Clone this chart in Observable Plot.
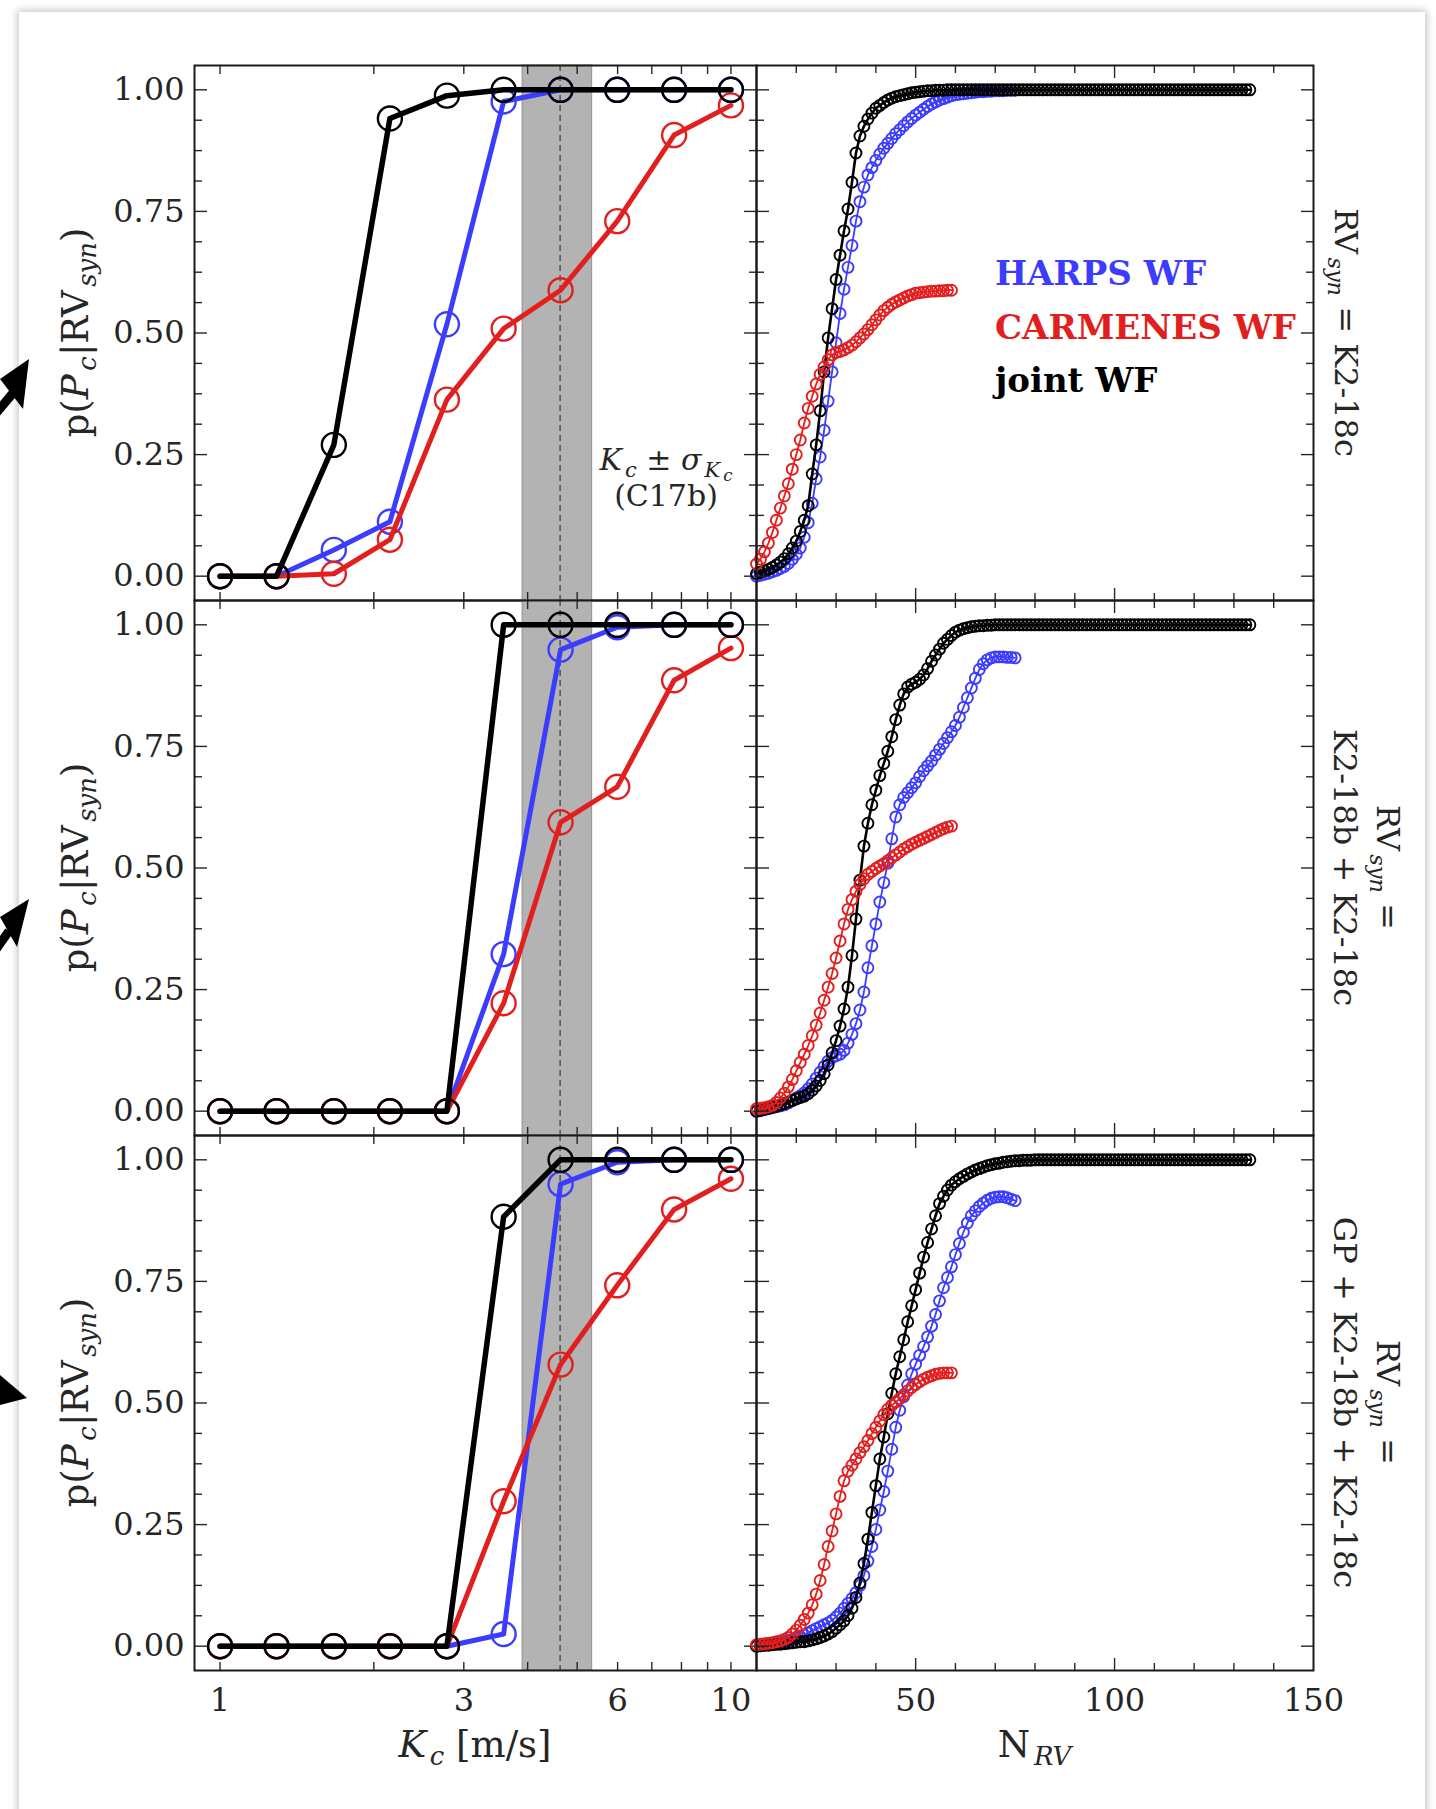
<!DOCTYPE html>
<html>
<head>
<meta charset="utf-8">
<script src="https://cdn.jsdelivr.net/npm/d3@7"></script>
<script src="https://cdn.jsdelivr.net/npm/@observablehq/plot@0.6"></script>
<style>
  html, body { margin: 0; padding: 0; background: #ffffff; }
  #page { position: relative; width: 1436px; height: 1809px; overflow: hidden; background: #ffffff; }
  #card { position: absolute; left: 19px; top: 12px; width: 1406px; height: 1830px; background: #ffffff;
          box-shadow: 0 0 7px 2px rgba(0,0,0,0.22); }
</style>
</head>
<body>
<div id="page">
  <div id="card"></div>
  <svg id="arrows" width="40" height="1809" style="position:absolute;left:0;top:0;overflow:visible">
    <line x1="13" y1="393" x2="-8" y2="418" stroke="#000" stroke-width="9"/>
    <polygon points="29,359 0,379 23,409" fill="#000"/>
    <line x1="9" y1="931" x2="-8" y2="955" stroke="#000" stroke-width="9"/>
    <polygon points="29,899 0,917 17,947" fill="#000"/>
    <polygon points="27,1398 0,1375 0,1405" fill="#000"/>
  </svg>
</div>
<script>
// ---------------- data ----------------
// left column: detection probability vs K_c (log-spaced grid)
const kValues = [1, 1.29, 1.67, 2.15, 2.78, 3.59, 4.64, 5.99, 7.74, 10];
const kHarps1 = [0, 0, 0.054, 0.112, 0.518, 0.976, 1.0, 1.0, 1.0, 1.0];
const kCarm1  = [0, 0, 0.005, 0.075, 0.363, 0.509, 0.588, 0.730, 0.907, 0.968];
const kJoint1 = [0, 0, 0.27, 0.941, 0.988, 1.0, 1.0, 1.0, 1.0, 1.0];
const kHarps2 = [0, 0, 0, 0, 0, 0.323, 0.949, 0.995, 1.0, 1.0];
const kCarm2  = [0, 0, 0, 0, 0, 0.222, 0.594, 0.667, 0.886, 0.952];
const kJoint2 = [0, 0, 0, 0, 0, 1.0, 1.0, 1.0, 1.0, 1.0];
const kHarps3 = [0, 0, 0, 0, 0, 0.025, 0.950, 0.995, 1.0, 1.0];
const kCarm3  = [0, 0, 0, 0, 0, 0.298, 0.579, 0.742, 0.898, 0.961];
const kJoint3 = [0, 0, 0, 0, 0, 0.883, 1.0, 1.0, 1.0, 1.0];
// K_c +/- sigma (C17b)
const kcCenter = 4.63, kcSigma = 0.72;

// right column: detection probability vs N_RV (one value per N, starting at N = 10)
const nStart = 10;
const nHarps1 = [0,0.002,0.004,0.006,0.009,0.012,0.016,0.02,0.026,0.035,
  0.045,0.058,0.08,0.11,0.15,0.2,0.245,0.3,0.36,0.42,
  0.48,0.54,0.59,0.635,0.68,0.73,0.77,0.8,0.825,0.84,
  0.855,0.868,0.88,0.89,0.9,0.91,0.918,0.926,0.934,0.941,
  0.948,0.954,0.96,0.966,0.971,0.975,0.979,0.982,0.985,0.988,
  0.99,0.991,0.992,0.993,0.994,0.995,0.996,0.996,0.997,0.997,
  0.998,0.998,0.998,0.999,0.999,0.999];
const nCarm1 = [0.025,0.035,0.05,0.068,0.09,0.115,0.14,0.165,0.19,0.22,
  0.25,0.28,0.315,0.345,0.37,0.395,0.415,0.43,0.445,0.455,
  0.46,0.462,0.465,0.47,0.475,0.482,0.49,0.498,0.507,0.517,
  0.527,0.537,0.546,0.553,0.559,0.564,0.568,0.572,0.576,0.579,
  0.582,0.583,0.584,0.585,0.586,0.586,0.587,0.587,0.588,0.588];
const nJoint1 = [0.005,0.008,0.011,0.014,0.018,0.023,0.029,0.036,0.046,0.058,
  0.072,0.092,0.115,0.145,0.21,0.27,0.34,0.42,0.49,0.55,
  0.61,0.66,0.71,0.755,0.81,0.87,0.905,0.925,0.94,0.952,
  0.962,0.968,0.974,0.979,0.983,0.986,0.988,0.99,0.992,0.994,
  0.995,0.996,0.997,0.998,0.998,0.999,0.999,0.999,1,1,
  1,1,1,1,1,1,1,1,1,1, 1,1,1,1,1,1,1,1,1,1,
  1,1,1,1,1,1,1,1,1,1, 1,1,1,1,1,1,1,1,1,1,
  1,1,1,1,1,1,1,1,1,1, 1,1,1,1,1,1,1,1,1,1,
  1,1,1,1,1,1,1,1,1,1, 1,1,1,1,1];
const nHarps2 = [0,0.001,0.003,0.005,0.007,0.009,0.011,0.013,0.017,0.022,
  0.027,0.032,0.038,0.046,0.056,0.068,0.08,0.092,0.103,0.11,
  0.114,0.117,0.125,0.14,0.158,0.18,0.208,0.245,0.295,0.34,
  0.385,0.43,0.47,0.51,0.56,0.605,0.63,0.645,0.655,0.665,
  0.675,0.688,0.7,0.71,0.72,0.732,0.744,0.756,0.768,0.78,
  0.793,0.81,0.83,0.85,0.87,0.89,0.908,0.92,0.928,0.932,
  0.934,0.934,0.934,0.933,0.933,0.932];
const nCarm2 = [0.005,0.006,0.007,0.009,0.012,0.018,0.027,0.037,0.05,0.065,
  0.083,0.1,0.117,0.135,0.155,0.177,0.202,0.228,0.255,0.283,
  0.315,0.35,0.385,0.415,0.435,0.452,0.466,0.478,0.487,0.493,
  0.499,0.504,0.509,0.515,0.521,0.527,0.533,0.539,0.544,0.549,
  0.553,0.557,0.561,0.565,0.569,0.573,0.577,0.581,0.584,0.586];
const nJoint2 = [0,0.002,0.004,0.006,0.008,0.01,0.013,0.016,0.019,0.022,
  0.025,0.028,0.031,0.036,0.043,0.052,0.063,0.077,0.095,0.12,
  0.145,0.175,0.21,0.255,0.32,0.395,0.475,0.545,0.592,0.63,
  0.66,0.69,0.715,0.74,0.77,0.805,0.835,0.858,0.872,0.878,
  0.882,0.888,0.897,0.91,0.925,0.938,0.95,0.962,0.97,0.978,
  0.985,0.989,0.992,0.994,0.996,0.997,0.998,0.998,0.999,0.999,
  1,1,1,1,1,1,1,1,1,1, 1,1,1,1,1,1,1,1,1,1,
  1,1,1,1,1,1,1,1,1,1, 1,1,1,1,1,1,1,1,1,1,
  1,1,1,1,1,1,1,1,1,1, 1,1,1,1,1,1,1,1,1,1,
  1,1,1,1,1];
const nHarps3 = [0,0.001,0.002,0.003,0.004,0.005,0.007,0.009,0.011,0.014,
  0.017,0.02,0.023,0.027,0.032,0.036,0.04,0.044,0.048,0.053,
  0.06,0.068,0.078,0.088,0.098,0.11,0.125,0.145,0.175,0.205,
  0.24,0.28,0.318,0.36,0.405,0.45,0.485,0.513,0.537,0.56,
  0.58,0.598,0.616,0.636,0.658,0.682,0.71,0.737,0.758,0.78,
  0.805,0.828,0.851,0.87,0.885,0.895,0.904,0.911,0.917,0.921,
  0.923,0.924,0.924,0.922,0.919,0.916];
const nCarm3 = [0.003,0.004,0.005,0.006,0.007,0.009,0.011,0.014,0.018,0.025,
  0.033,0.043,0.055,0.068,0.085,0.107,0.135,0.168,0.205,0.237,
  0.272,0.308,0.34,0.36,0.372,0.385,0.398,0.41,0.423,0.437,
  0.45,0.463,0.476,0.487,0.495,0.502,0.509,0.517,0.525,0.532,
  0.538,0.544,0.549,0.553,0.556,0.559,0.561,0.562,0.562,0.562];
const nJoint3 = [0,0.001,0.002,0.002,0.003,0.004,0.004,0.005,0.006,0.007,
  0.008,0.009,0.009,0.011,0.013,0.015,0.018,0.021,0.025,0.03,
  0.037,0.044,0.052,0.063,0.078,0.1,0.13,0.17,0.22,0.275,
  0.33,0.385,0.43,0.478,0.52,0.56,0.595,0.63,0.667,0.7,
  0.733,0.767,0.8,0.83,0.858,0.885,0.91,0.925,0.938,0.948,
  0.955,0.961,0.966,0.971,0.975,0.979,0.982,0.985,0.988,0.99,
  0.992,0.993,0.995,0.996,0.997,0.998,0.998,0.999,0.999,0.999,
  1,1,1,1,1,1,1,1,1,1, 1,1,1,1,1,1,1,1,1,1,
  1,1,1,1,1,1,1,1,1,1, 1,1,1,1,1,1,1,1,1,1,
  1,1,1,1,1,1,1,1,1,1, 1,1,1,1,1];

// ticks & labels
const yMajor = [0, 0.25, 0.5, 0.75, 1];
const yMinor = [0.0625, 0.125, 0.1875, 0.3125, 0.375, 0.4375, 0.5625, 0.625, 0.6875, 0.8125, 0.875, 0.9375];
const kTicks = [1, 2, 3, 4, 5, 6, 7, 8, 9, 10];
const kLabels = [1, 3, 6, 10];
const nMinor = [20, 30, 40, 60, 70, 80, 90, 110, 120, 130, 140];
const nMajor = [50, 100];
const nLabels = [50, 100, 150];
const seriesNames = ["HARPS WF", "CARMENES WF", "joint WF"];
const rowLabels = [
  [["RV"], ["syn", "i", 1], [" = K2-18c"]],
  [["K2-18b + K2-18c"]],
  [["GP + K2-18b + K2-18c"]]
];

// ---------------- styling / layout ----------------
const FONT = "DejaVu Serif";
const INK = "#262626";
const COL = { harps: "#3c3cff", carm: "#e21f1f", joint: "#000000" };
const M = { left: 200, right: 150, top: 20, bottom: 110 };
const colFrames = [[194, 756], [756, 1313]];
const rowFrames = [[65, 600], [600, 1135], [1135, 1670]];
const page = document.getElementById("page");

const leftSets = [
  [kHarps1, kCarm1, kJoint1],
  [kHarps2, kCarm2, kJoint2],
  [kHarps3, kCarm3, kJoint3]
];
const rightSets = [
  [nHarps1, nCarm1, nJoint1],
  [nHarps2, nCarm2, nJoint2],
  [nHarps3, nCarm3, nJoint3]
];

function richText(svg, o) {
  const t = d3.select(svg).append("text")
    .attr("transform", `translate(${o.x},${o.y})` + (o.rotate ? ` rotate(${o.rotate})` : ""))
    .attr("text-anchor", o.anchor || "middle")
    .attr("font-family", FONT)
    .attr("font-size", o.size)
    .attr("font-weight", o.weight || "normal")
    .attr("fill", o.fill || INK)
    .style("white-space", "pre");
  const off = [0, 0.22, 0.36], sc = [1, 0.7, 0.55];
  let level = 0;
  for (const [txt, st = "", lv = 0] of o.parts) {
    const ts = t.append("tspan").text(txt)
      .attr("font-size", (o.size * sc[lv]).toFixed(2))
      .attr("dy", ((off[lv] - off[level]) * o.size).toFixed(2));
    if (lv > level) ts.attr("dx", (0.1 * o.size).toFixed(2));
    if (st.includes("i")) ts.attr("font-style", "italic");
    level = lv;
  }
  return t;
}

function tickMarks(xMajor, xMinor, xMajLen, xMinLen) {
  const tk = { fill: "none", label: null, stroke: INK, strokeWidth: 1.4 };
  const out = [
    Plot.axisY(yMajor, { ...tk, anchor: "right", frameAnchor: "left", tickSize: 12 }),
    Plot.axisY(yMinor, { ...tk, anchor: "right", frameAnchor: "left", tickSize: 7 }),
    Plot.axisY(yMajor, { ...tk, anchor: "left", frameAnchor: "right", tickSize: 12 }),
    Plot.axisY(yMinor, { ...tk, anchor: "left", frameAnchor: "right", tickSize: 7 }),
    Plot.axisX(xMajor, { ...tk, anchor: "top", frameAnchor: "bottom", tickSize: xMajLen }),
    Plot.axisX(xMajor, { ...tk, anchor: "bottom", frameAnchor: "top", tickSize: xMajLen })
  ];
  if (xMinor) {
    out.push(Plot.axisX(xMinor, { ...tk, anchor: "top", frameAnchor: "bottom", tickSize: xMinLen }));
    out.push(Plot.axisX(xMinor, { ...tk, anchor: "bottom", frameAnchor: "top", tickSize: xMinLen }));
  }
  return out;
}

function place(svg, col, row) {
  svg.style.position = "absolute";
  svg.style.left = (colFrames[col][0] - M.left) + "px";
  svg.style.top = (rowFrames[row][0] - M.top) + "px";
  page.appendChild(svg);
}

function plotOpts(col, row, x, marks) {
  const W = colFrames[col][1] - colFrames[col][0];
  const H = rowFrames[row][1] - rowFrames[row][0];
  return {
    width: W + M.left + M.right, height: H + M.top + M.bottom,
    marginLeft: M.left, marginRight: M.right, marginTop: M.top, marginBottom: M.bottom,
    x, y: { domain: [-0.05, 1.05] },
    style: `background: transparent; overflow: visible; font-family: '${FONT}'; color: ${INK};`,
    marks
  };
}

// ---------------- left column ----------------
rowFrames.forEach((rf, row) => {
  const W = colFrames[0][1] - colFrames[0][0];
  const H = rf[1] - rf[0];
  const colors = [COL.harps, COL.carm, COL.joint];
  const marks = [
    Plot.rect([{ c: kcCenter, s: kcSigma }], { x1: d => d.c - d.s, x2: d => d.c + d.s, fill: "#b3b3b3", stroke: "#8f8f8f", strokeWidth: 1 }),
    Plot.ruleX([kcCenter], { stroke: "#3a3a3a", strokeWidth: 1.2, strokeDasharray: "6,4" })
  ];
  leftSets[row].forEach((vals, si) => {
    const data = vals.map((p, i) => ({ k: kValues[i], p }));
    marks.push(Plot.line(data, { x: "k", y: "p", stroke: colors[si], strokeWidth: si === 2 ? 5.5 : 5 }));
    marks.push(Plot.dot(data, { x: "k", y: "p", r: 12, stroke: colors[si], strokeWidth: 2.4, fill: "none" }));
  });
  marks.push(...tickMarks(kTicks, null, 9, 0));
  marks.push(Plot.axisY(yMajor, { anchor: "left", tickSize: 0, tickPadding: 10, fontSize: 32, fill: INK, label: null, tickFormat: d3.format(".2f") }));
  if (row === 2) {
    marks.push(Plot.axisX(kLabels, { anchor: "bottom", tickSize: 0, tickPadding: 18, fontSize: 32, fill: INK, label: null, tickFormat: d => String(d) }));
  }
  marks.push(Plot.frame({ stroke: "#1a1a1a", strokeWidth: 2 }));
  const svg = Plot.plot(plotOpts(0, row, { type: "log", domain: [Math.pow(10, -0.05), Math.pow(10, 1.05)] }, marks));
  // y label
  richText(svg, { x: M.left - 106, y: M.top + H / 2, rotate: -90, size: 37,
    parts: [["p("], ["P", "i"], ["c", "i", 1], ["|RV"], ["syn", "i", 1], [")"]] });
  if (row === 0) {
    richText(svg, { x: M.left + 472, y: M.top + 405, size: 30,
      parts: [["K", "i"], ["c", "i", 1], [" ± "], ["σ", "i"], ["K", "i", 1], ["c", "i", 2]] });
    richText(svg, { x: M.left + 472, y: M.top + 441, size: 30, parts: [["(C17b)"]] });
  }
  if (row === 2) {
    richText(svg, { x: M.left + W / 2, y: M.top + H + 87, size: 37,
      parts: [["K", "i"], ["c", "i", 1], [" [m/s]"]] });
  }
  place(svg, 0, row);
});

// ---------------- right column ----------------
rowFrames.forEach((rf, row) => {
  const W = colFrames[1][1] - colFrames[1][0];
  const H = rf[1] - rf[0];
  const [hv, cv, jv] = rightSets[row];
  const toRows = vals => vals.map((p, i) => ({ n: nStart + i, p }));
  const order = [[hv, COL.harps, 1.8], [jv, COL.joint, 2.6], [cv, COL.carm, 1.8]];
  const marks = [];
  for (const [vals, c, lw] of order) {
    const data = toRows(vals);
    marks.push(Plot.line(data, { x: "n", y: "p", stroke: c, strokeWidth: lw }));
    marks.push(Plot.dot(data, { x: "n", y: "p", r: 5.5, stroke: c, strokeWidth: 1.9, fill: "none" }));
  }
  marks.push(...tickMarks(nMajor, nMinor, 13, 8));
  if (row === 2) {
    marks.push(Plot.axisX(nLabels, { anchor: "bottom", tickSize: 0, tickPadding: 18, fontSize: 32, fill: INK, label: null, tickFormat: d => String(d) }));
  }
  marks.push(Plot.frame({ stroke: "#1a1a1a", strokeWidth: 2 }));
  const svg = Plot.plot(plotOpts(1, row, { type: "linear", domain: [10, 150] }, marks));
  const xr = M.left + W;
  const yc = M.top + H / 2;
  if (row === 0) {
    richText(svg, { x: xr + 22, y: yc, rotate: 90, size: 32, parts: rowLabels[0] });
    const legendCols = [COL.harps, COL.carm, COL.joint];
    const legendY = [220, 274, 327];
    seriesNames.forEach((nm, i) => {
      richText(svg, { x: M.left + 239, y: M.top + legendY[i], size: 34, weight: "bold", anchor: "start",
        fill: legendCols[i], parts: [[nm]] });
    });
  } else {
    richText(svg, { x: xr + 64, y: yc, rotate: 90, size: 32, parts: [["RV"], ["syn", "i", 1], [" ="]] });
    richText(svg, { x: xr + 21, y: yc, rotate: 90, size: 32, parts: rowLabels[row] });
  }
  if (row === 2) {
    richText(svg, { x: M.left + W / 2, y: M.top + H + 87, size: 37, parts: [["N"], ["RV", "i", 1]] });
  }
  place(svg, 1, row);
});
</script>
</body>
</html>
